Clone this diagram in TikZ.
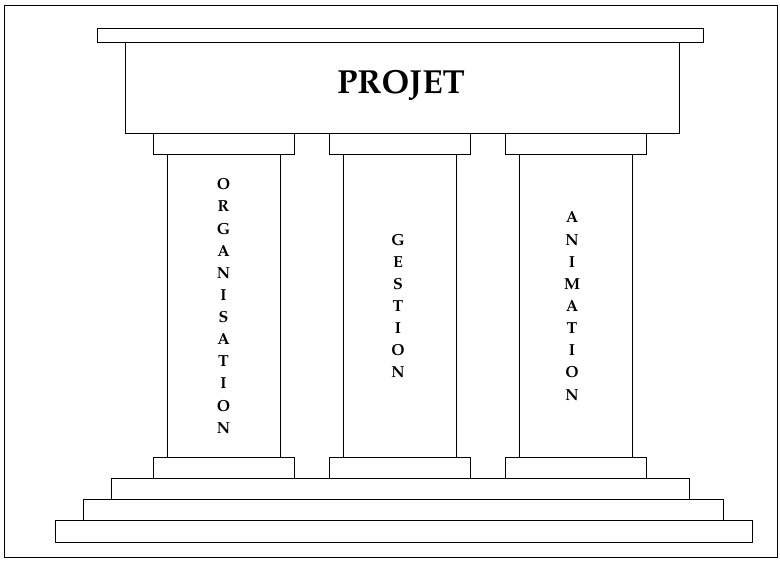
\documentclass[tikz,border=0pt]{standalone}
\usepackage[T1]{fontenc}
\usepackage{mathpazo}
\usetikzlibrary{positioning}

\tikzset{
  slab/.style={draw, line width=0.6pt},
  pillarword/.style={font=\bfseries\fontsize{12}{16.6}\selectfont, align=center, inner sep=0pt},
  roofword/.style={font=\bfseries\fontsize{25}{25}\selectfont, inner sep=0pt}
}

\begin{document}
\begin{tikzpicture}[x=0.75pt, y=-0.75pt]
\useasboundingbox (0,0) rectangle (780,560);
\draw[slab] (4.5,5.5) rectangle (777.5,557.5);

% roof
\draw[slab] (97,28) rectangle (703,42);
\draw[slab] (125,42) rectangle (679,133.3);
\node[roofword] (projet) at (401,86) {PROJET};

% pillars
\foreach \cx in {223.5, 400, 576} {
  \draw[slab] (\cx-70.5,133.3) rectangle (\cx+70.5,154.3);
  \draw[slab] (\cx-56.5,154.3) rectangle (\cx+56.5,457.3);
  \draw[slab] (\cx-70.5,457.3) rectangle (\cx+70.5,478.3);
}
\node[pillarword] (organisation) at (223.5,306) {O\\R\\G\\A\\N\\I\\S\\A\\T\\I\\O\\N};
\node[pillarword] (gestion) at (398,306) {G\\E\\S\\T\\I\\O\\N};
\node[pillarword] (animation) at (572,306) {A\\N\\I\\M\\A\\T\\I\\O\\N};

% steps
\draw[slab] (111,478.3) rectangle (689,499.5);
\draw[slab] (83,499.5) rectangle (723,520.7);
\draw[slab] (55,520.7) rectangle (752,542);
\end{tikzpicture}
\end{document}
